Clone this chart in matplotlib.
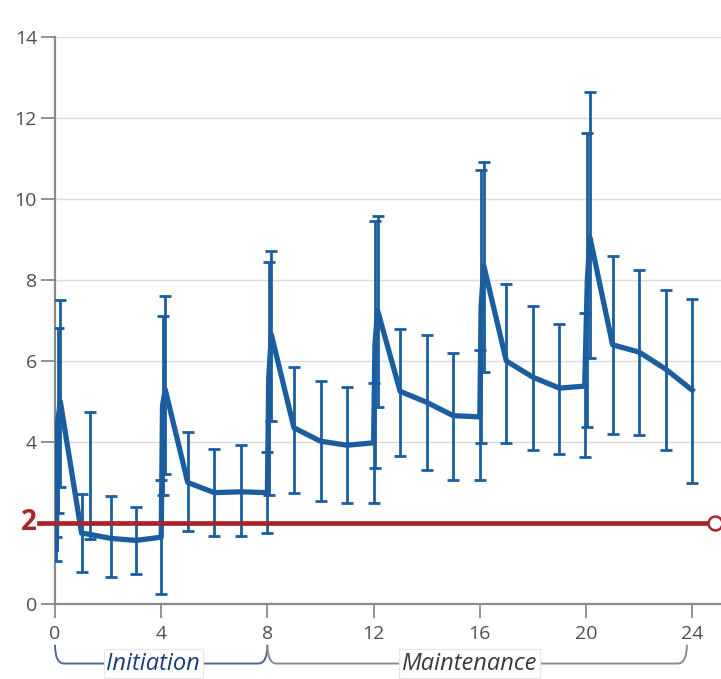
import matplotlib
matplotlib.use("Agg")
import matplotlib.pyplot as plt
from matplotlib.path import Path
from matplotlib.patches import PathPatch
import numpy as np

# weeks, mean and the lower / upper end of each error bar
weeks = [0.05, 0.1, 0.2, 1.0, 1.3, 2.1, 3.05,
         4.0, 4.05, 4.15, 5, 6, 7,
         8.0, 8.05, 8.15, 9, 10, 11,
         12.0, 12.05, 12.15, 13, 14, 15,
         16.0, 16.05, 16.15, 17, 18, 19,
         19.95, 20.05, 20.15, 21, 22, 23, 24]
mean = [1.35, 4.5, 5.0, 1.75, 1.72, 1.62, 1.57,
        1.65, 4.9, 5.3, 3.0, 2.75, 2.77,
        2.75, 5.6, 6.65, 4.35, 4.02, 3.92,
        3.98, 6.4, 7.25, 5.25, 4.98, 4.65,
        4.62, 7.35, 8.35, 6.0, 5.6, 5.33,
        5.38, 8.0, 9.05, 6.4, 6.22, 5.8, 5.28]
lower = [1.05, 2.25, 2.9, 0.8, 1.6, 0.67, 0.74,
         0.25, 2.7, 3.2, 1.8, 1.68, 1.68,
         1.75, 2.69, 4.53, 2.75, 2.55, 2.5,
         2.5, 3.35, 4.87, 3.65, 3.3, 3.05,
         3.05, 3.97, 5.74, 3.98, 3.8, 3.7,
         3.64, 4.38, 6.08, 4.2, 4.18, 3.8, 3.0]
upper = [1.65, 6.82, 7.5, 2.72, 4.75, 2.66, 2.4,
         3.05, 7.1, 7.6, 4.25, 3.83, 3.93,
         3.76, 8.44, 8.72, 5.85, 5.5, 5.35,
         5.46, 9.46, 9.58, 6.8, 6.65, 6.2,
         6.27, 10.72, 10.92, 7.9, 7.35, 6.92,
         7.18, 11.62, 12.65, 8.6, 8.25, 7.75, 7.52]

threshold = 2
x_ticks = [0, 4, 8, 12, 16, 20, 24]
y_ticks = [0, 4, 6, 8, 10, 12, 14]
phases = [("Initiation", 0, 8), ("Maintenance", 8, 23.8)]

blue = "#1b5e9f"
red = "#a8252b"
grey = "#4f4f4f"

plt.rcParams['font.family'] = ['Open Sans', 'DejaVu Sans']

fig = plt.figure(figsize=(7.21, 6.79), dpi=100)
ax = fig.add_axes([55 / 721, 75 / 679, 666 / 721, 567 / 679])

for g in range(2, 15, 2):
    ax.axhline(g, color="#dadada", lw=1.0, zorder=0)

m = np.array(mean)
yerr = [m - np.array(lower), np.array(upper) - m]
ax.errorbar(weeks, mean, yerr=yerr, color=blue, lw=3.8, elinewidth=2.0,
            capsize=4.3, capthick=2.0, zorder=3)

ax.plot([-0.6, 24.85], [threshold, threshold], color=red, lw=3.4,
        clip_on=False, zorder=4)
ax.plot([24.85], [threshold], marker="o", ms=10, mfc="white", mec=red,
        mew=1.8, clip_on=False, zorder=5)

ax.set_xlim(0, 666 / 26.55)
ax.set_ylim(0, 14)
ax.set_xticks(x_ticks)
ax.set_yticks(y_ticks)
ax.tick_params(axis="both", colors="#8a8a8a", labelcolor=grey, labelsize=14,
               length=10, width=1.3)
ax.tick_params(axis="x", pad=5)
ax.tick_params(axis="y", pad=3)
for s in ["top", "right"]:
    ax.spines[s].set_visible(False)
for s in ["left", "bottom"]:
    ax.spines[s].set_color("#8a8a8a")
    ax.spines[s].set_linewidth(1.6)

ax.text(-0.028, threshold, "2", transform=ax.get_yaxis_transform(),
        ha="right", va="center", color=red, fontsize=20, fontweight="bold")

# phase brackets under the axis
tr = ax.get_xaxis_transform()
y_top, y_bot = -0.072, -0.105
for (name, x0, x1), col, tcol in zip(phases, ["#50698f", "#8a8a8a"],
                                     ["#1a3c7a", "#3a3a3a"]):
    verts = [(x0, y_top), (x0, y_bot), (x0 + 0.35, y_bot),
             (x1 - 0.35, y_bot), (x1, y_bot), (x1, y_top)]
    codes = [Path.MOVETO, Path.CURVE3, Path.CURVE3,
             Path.LINETO, Path.CURVE3, Path.CURVE3]
    ax.add_patch(PathPatch(Path(verts, codes), transform=tr, fill=False,
                           ec=col, lw=1.4, clip_on=False))
    ax.text((x0 + x1) / 2 - 0.3, y_bot, name, transform=tr, ha="center",
            va="center", fontsize=17, style="italic", color=tcol,
            bbox=dict(boxstyle="square,pad=0.12", fc="white", ec="#e6e6e6",
                      lw=0.8))

fig.savefig("out.png", dpi=100)
